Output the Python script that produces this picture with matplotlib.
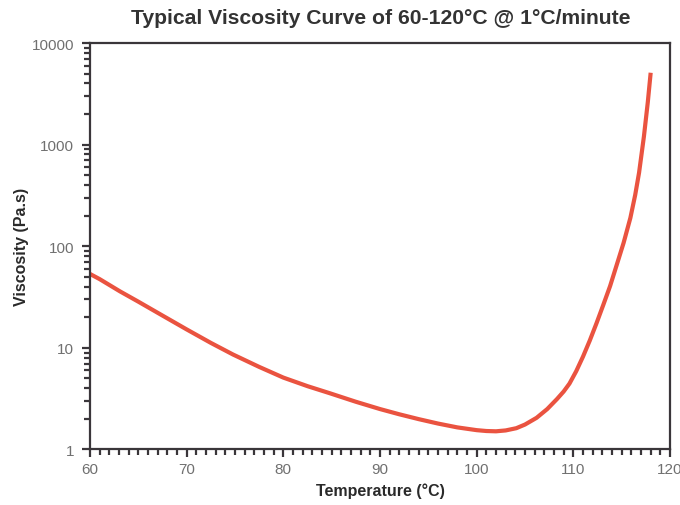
import matplotlib
matplotlib.use("Agg")
import matplotlib.pyplot as plt
from matplotlib.ticker import LogLocator, MultipleLocator, NullFormatter, FixedLocator

plt.rcParams['font.family'] = ['Liberation Sans', 'DejaVu Sans']

temperature = [60.0, 61.0, 63.1, 65.0, 67.5, 70.0, 72.5, 74.8, 77.5, 80.0, 82.5, 84.8,
               87.5, 90.0, 92.0, 94.0, 96.0, 98.0, 100.0, 101.0, 102.0, 103.0, 104.1,
               105.0, 106.2, 107.3, 108.3, 109.0, 109.6, 110.3, 111.0, 111.7, 112.4,
               113.1, 113.8, 114.7, 115.2, 115.9, 116.4, 116.8, 117.3, 117.7, 118.0]
viscosity = [53.4, 47.5, 36.0, 28.5, 20.8, 15.2, 11.2, 8.6, 6.5, 5.1, 4.2, 3.58,
             2.95, 2.5, 2.22, 1.99, 1.80, 1.65, 1.55, 1.52, 1.51, 1.54, 1.62,
             1.76, 2.05, 2.5, 3.13, 3.72, 4.45, 5.9, 8.2, 11.8, 17.5,
             26.5, 40.5, 76.0, 108, 190, 320, 530, 1200, 2600, 5100]

x_ticks = [60, 70, 80, 90, 100, 110, 120]
y_ticks = [1, 10, 100, 1000, 10000]
y_tick_labels = ['1', '10', '100', '1000', '10000']

fig = plt.figure(figsize=(6.8, 5.06), dpi=100)
ax = fig.add_axes([0.1323, 0.1097, 0.853, 0.8033])

ax.plot(temperature, viscosity, color='#EA5340', lw=3.0, solid_capstyle='butt',
        solid_joinstyle='round')

ax.set_yscale('log')
ax.set_xlim(60, 120)
ax.set_ylim(1, 10000)

ax.xaxis.set_major_locator(FixedLocator(x_ticks))
ax.xaxis.set_minor_locator(MultipleLocator(1))
ax.yaxis.set_major_locator(FixedLocator(y_ticks))
ax.set_yticklabels(y_tick_labels)
ax.yaxis.set_minor_locator(LogLocator(base=10, subs=range(2, 10)))
ax.yaxis.set_minor_formatter(NullFormatter())

spine_color = '#3a363a'
for s in ax.spines.values():
    s.set_color(spine_color)
    s.set_linewidth(1.6)

ax.tick_params(which='major', direction='out', length=6, width=1.6, color=spine_color,
               labelsize=11, labelcolor='#707070', pad=5.5)
ax.tick_params(which='minor', direction='out', length=4.5, width=1.6, color=spine_color)
ax.tick_params(top=False, right=False, which='both')
ax.tick_params(axis='x', which='major', pad=3)

ax.set_xlabel('Temperature (°C)', fontsize=11.5, fontweight='bold', color='#2a2a2a', labelpad=4.5)
ax.set_ylabel('Viscosity (Pa.s)', fontsize=11.5, fontweight='bold', color='#2a2a2a', labelpad=1.5)

fig.text(0.56, 0.963, 'Typical Viscosity Curve of 60-120°C @ 1°C/minute',
         ha='center', va='center', fontsize=15.2, fontweight='bold', color='#333333')

fig.savefig('out.png', dpi=100)
